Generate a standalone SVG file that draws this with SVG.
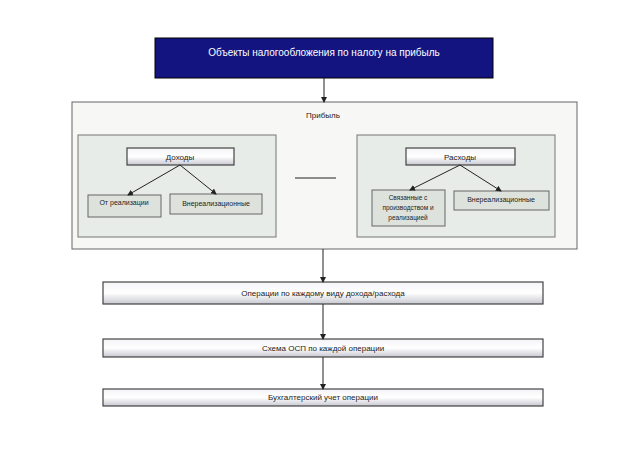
<svg xmlns="http://www.w3.org/2000/svg" width="620" height="464" viewBox="0 0 620 464">
<defs>
<linearGradient id="g" x1="0" y1="0" x2="0" y2="1"><stop offset="0" stop-color="#f4f4f8"/><stop offset="0.5" stop-color="#ffffff"/><stop offset="1" stop-color="#c8c8d2"/></linearGradient>
<marker id="a" markerWidth="6" markerHeight="6" refX="5" refY="3" orient="auto"><path d="M0,0L6,3L0,6z" fill="#222"/></marker>
<style>
text{font-family:"Liberation Sans",Arial,sans-serif;font-size:8px;fill:#222;text-anchor:middle}
.bar{fill:url(#g);stroke:#444;stroke-width:1.2}
.sub{fill:#e8ece8;stroke:#777;stroke-width:1}
.ch{fill:#dde2dd;stroke:#666;stroke-width:1}
.c{stroke:#222;stroke-width:1;fill:none;marker-end:url(#a)}
</style>
</defs>
<rect width="620" height="464" fill="#fff"/>
<g id="top"><rect x="155" y="38" width="338" height="40" fill="#141480" stroke="#000"/><text x="324" y="56" style="fill:#fff;font-size:10px">Объекты налогообложения по налогу на прибыль</text></g>
<g id="profit"><rect x="72" y="102" width="505" height="147" fill="#f7f7f5" stroke="#666"/><text x="323" y="118">Прибыль</text></g>
<g id="incomeGroup"><rect class="sub" x="78" y="135" width="198" height="102"/></g>
<g id="expenseGroup"><rect class="sub" x="357" y="135" width="198" height="102"/></g>
<g id="income"><rect class="bar" x="127" y="148" width="107" height="17"/><text x="180" y="160">Доходы</text></g>
<g id="sales"><rect class="ch" x="88" y="195" width="73" height="22"/><text x="124" y="205" style="font-size:7px">От реализации</text></g>
<g id="nonop1"><rect class="ch" x="170" y="194" width="92" height="20"/><text x="216" y="206" style="font-size:7px">Внереализационные</text></g>
<g id="expense"><rect class="bar" x="406" y="148" width="109" height="17"/><text x="460" y="160">Расходы</text></g>
<g id="prod"><rect class="ch" x="372" y="190" width="73" height="36"/><text x="408" y="200" style="font-size:6.5px">Связанные с</text><text x="408" y="210" style="font-size:6.5px">производством и</text><text x="408" y="220" style="font-size:6.5px">реализацией</text></g>
<g id="nonop2"><rect class="ch" x="454" y="191" width="95" height="19"/><text x="501" y="202" style="font-size:7px">Внереализационные</text></g>
<g id="ops"><rect class="bar" x="103" y="282" width="440" height="22"/><text x="323" y="296">Операции по каждому виду дохода/расхода</text></g>
<g id="scheme"><rect class="bar" x="103" y="339" width="440" height="18"/><text x="323" y="351">Схема ОСП по каждой операции</text></g>
<g id="acct"><rect class="bar" x="103" y="389" width="440" height="17"/><text x="323" y="400">Бухгалтерский учет операции</text></g>
<g id="connectors">
<path class="c" d="M324,78V102"/>
<path class="c" d="M180,165L128,195"/>
<path class="c" d="M180,165L216,194"/>
<path class="c" d="M460,165L410,190"/>
<path class="c" d="M460,165L501,191"/>
<path d="M295,178H336" stroke="#222" stroke-width="1.2"/>
<path class="c" d="M323,249V282"/>
<path class="c" d="M323,304V339"/>
<path class="c" d="M323,357V389"/>
</g>
</svg>
